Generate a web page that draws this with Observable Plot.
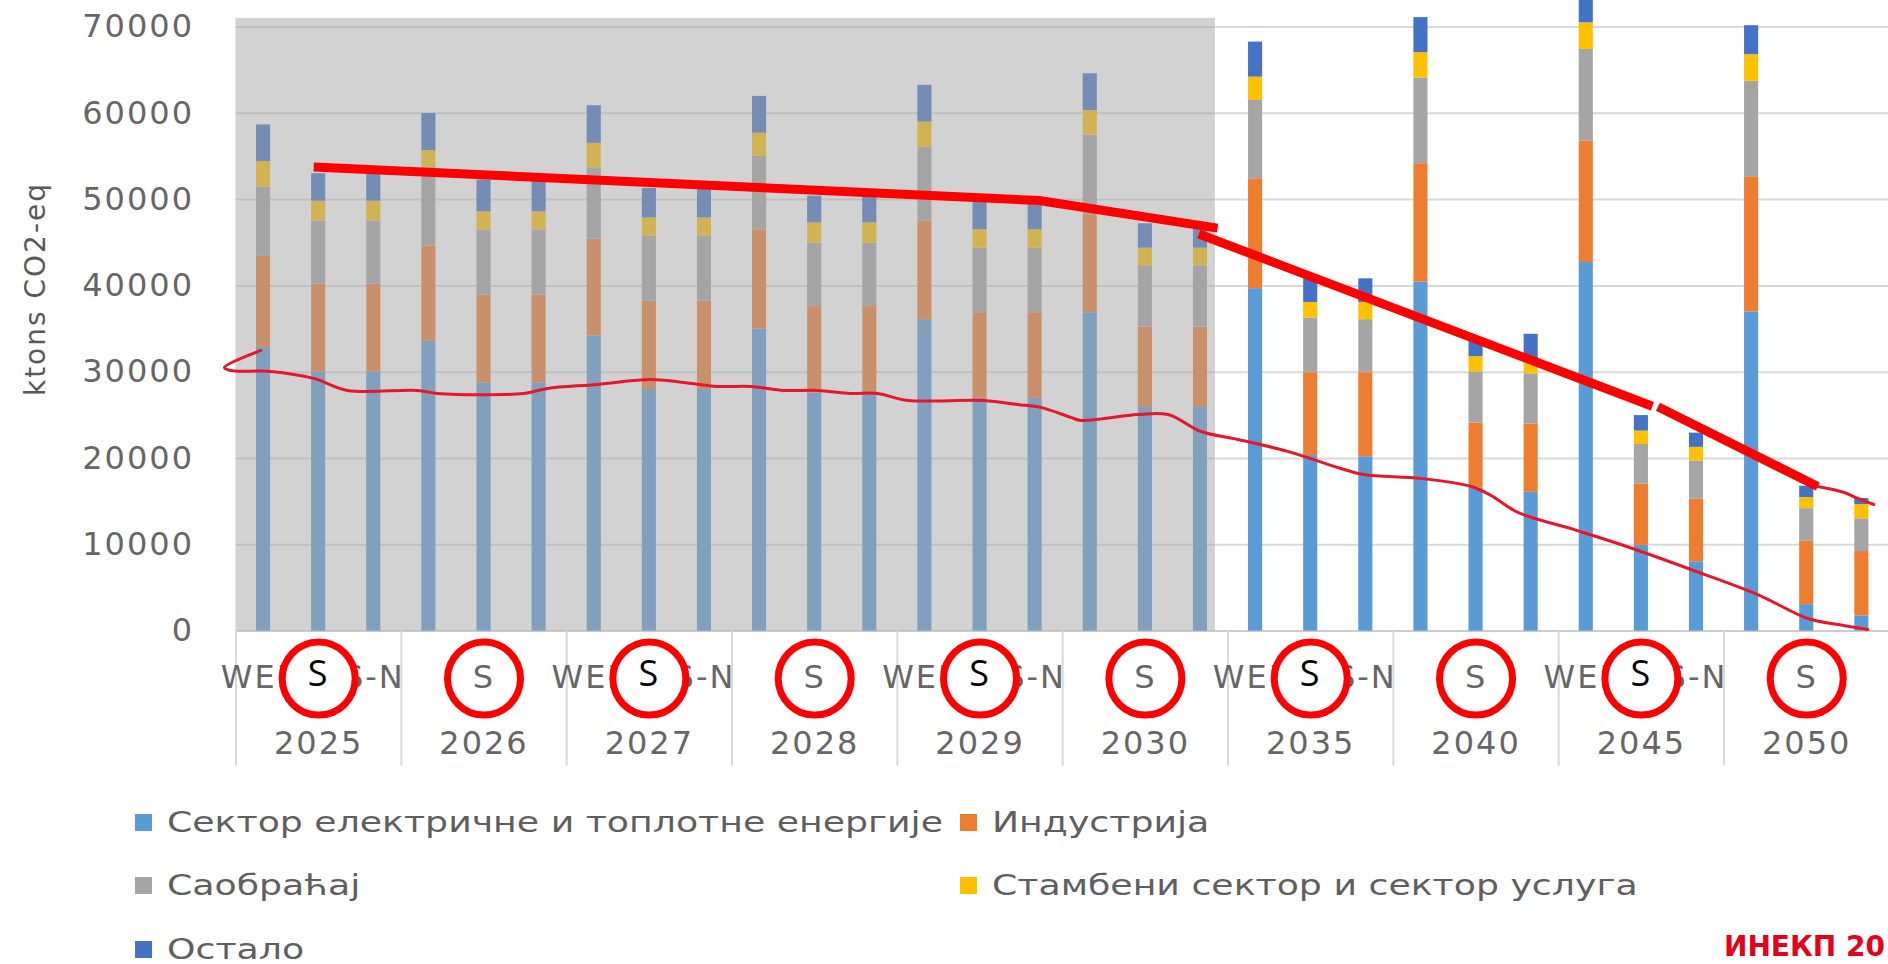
<!DOCTYPE html>
<html><head><meta charset="utf-8">
<script src="https://cdn.jsdelivr.net/npm/d3@7"></script>
<script src="https://cdn.jsdelivr.net/npm/@observablehq/plot@0.6"></script>
<style>
body{margin:0;background:#fff;width:1888px;height:964px;overflow:hidden;position:relative;font-family:"DejaVu Sans",sans-serif}
#chart{position:absolute;left:0;top:0}
#chart svg text{letter-spacing:2px}
.leg{position:absolute;display:flex;align-items:center;white-space:nowrap;transform:translateY(-50%)}
.sw{width:17px;height:17px;margin-right:15px;flex:none}
.lt{display:inline-block;font-size:29px;color:#5f5f5f;transform:scaleX(1.25);transform-origin:left center}
#brand{position:absolute;right:3px;top:947px;transform:translateY(-50%);font:bold 28px "DejaVu Sans",sans-serif;color:#e5001c;white-space:nowrap;line-height:1}
</style></head><body>
<div id="chart"></div>
<div id="legend"></div>
<div id="brand">ИНЕКП 20</div>
<script>
// ---- data ----
const years = ["2025","2026","2027","2028","2029","2030","2035","2040","2045","2050"];
const scenarios = ["WEM","S","S-N"];
const sectors = ["Сектор електричне и топлотне енергије","Индустрија","Саобраћај","Стамбени сектор и сектор услуга","Остало"];
const sectorColors = ["#5B9BD5","#ED7D31","#A5A5A5","#FFC000","#4472C4"];
const energy      = [32870,30040,30040, 33580,28760,28760, 34200,28000,28000, 35000,27580,27580, 36090,26960,26960, 36890,25920,25920, 39680,20340,20200, 40440,16560,16080, 42710,9930,8040, 36990,3070,1750];
const industry    = [10550,10160,10160, 11020,10170,10170, 11210,10220,10220, 11500,10020,10020, 11450,9930,9930, 11360,9320,9320, 12730,9600,9740, 13720,7560,7900, 14050,7100,7240, 15660,7340,7470];
const transport   = [8040,7340,7340, 9180,7570,7570, 8280,7570,7570, 8510,7340,7340, 8510,7480,7480, 9220,7090,7090, 9080,6340,6150, 9930,5920,5820, 10640,4590,4440, 11060,3780,3790];
const residential = [2940,2270,2270, 1890,2080,2080, 2830,2080,2080, 2690,2360,2360, 2930,2130,2130, 2840,2040,2040, 2700,1800,1990, 2930,1750,1650, 3080,1560,1570, 3080,1280,1650];
const other       = [4250,3190,3190, 4310,3690,3690, 4360,3430,3430, 4260,3100,3100, 4260,3200,3200, 4260,2830,2830, 4060,2740,2740, 4070,1790,2940, 4020,1790,1650, 3360,1320,710];
const yTicks = [0,10000,20000,30000,40000,50000,60000,70000];
const yLabel = "ktons CO2-eq";
// shaded block: bar-index span and top value
const shadeFrom = -0.5, shadeTo = 17.27, shadeTop = 71000;
// hand-drawn annotations (bar-index position, value)
const trendIdx = [0.91, 14.07, 17.31, 16.97, 25.2, 25.3, 28.2];
const trendVal = [53790, 49900, 46700, 46020, 26060, 26000, 16760];
const trendSeg = [0, 0, 0, 1, 1, 2, 2];
const thinIdx = [-0.05,-0.71,-0.60,0.13,0.91,1.52,2.79,3.16,4.72,5.15,6.06,7.02,7.62,8.24,8.84,9.44,10.05,10.65,11.14,11.69,13.07,13.68,14.10,14.65,14.83,15.86,16.41,17.01,17.68,18.58,19.49,19.96,21.00,21.91,22.27,22.76,23.77,24.68,25.90,27.11,28.02,28.57,29.11];
const thinVal = [32520,30550,30200,30090,29280,27890,27890,27540,27540,28120,28580,29160,28810,28350,28350,27890,27890,27540,27540,26730,26730,26260,25920,24760,24410,25100,25100,23130,22210,20820,18960,18150,17690,16760,15720,13750,11780,9920,7140,4240,1460,760,190];
const tailIdx = [28.2, 28.68, 28.93, 29.22];
const tailVal = [16760, 16060, 15370, 14670];

// ---- derived tables ----
const series = [energy, industry, transport, residential, other];
const n = years.length * scenarios.length;
const rows = [];
for (let i = 0; i < n; i++) {
  let acc = 0;
  series.forEach((s, k) => { rows.push({i, sector: sectors[k], y1: acc, y2: acc + s[i]}); acc += s[i]; });
}
const scenLabels = d3.range(n).filter(i => i % 2 === 0).map(i => ({i, text: scenarios[i % 3]}));
const yearLabels = years.map((y, k) => ({i: k * 3 + 1, text: y}));
const bounds = d3.range(years.length + 1).map(k => k * 3 - 0.5);
const circles = years.map((y, k) => ({i: k * 3 + 1, filled: k % 2 === 0}));
const trend = trendIdx.map((x, j) => ({x, y: trendVal[j], s: trendSeg[j]}));
const thin = thinIdx.map((x, j) => ({x, y: thinVal[j]}));
const tail = tailIdx.map((x, j) => ({x, y: tailVal[j]}));
const shade = [{x1: shadeFrom, x2: shadeTo, y1: 0, y2: shadeTop}];
const bw = 0.128;
const H = 790, bottomY = 630.6, topY = 26.5;
const txt = "#666666";
const rowDy = 47.5, textShift = 9;

const chart = Plot.plot({
  width: 1888, height: H,
  marginLeft: 235.5, marginRight: 0, marginTop: topY, marginBottom: H - bottomY,
  x: {domain: [-0.5, 29.5], range: [235.5, 1888.9], axis: null},
  y: {domain: [0, 70000], axis: null},
  color: {domain: sectors, range: sectorColors},
  style: {fontFamily: "DejaVu Sans", background: "transparent", overflow: "visible"},
  marks: [
    Plot.gridY(yTicks.filter(d => d > 0), {stroke: "#d9d9d9", strokeOpacity: 1, strokeWidth: 2}),
    Plot.ruleY([0], {stroke: "#cccccc", strokeWidth: 2}),
    Plot.rect(rows, {x1: d => d.i - bw, x2: d => d.i + bw, y1: "y1", y2: "y2", fill: "sector"}),
    Plot.rect(shade, {x1: "x1", x2: "x2", y1: "y1", y2: "y2", fill: "#a6a6a6", fillOpacity: 0.5}),
    Plot.axisY(yTicks, {tickSize: 0, tickPadding: 42, tickFormat: d => String(d), fontSize: 32, fill: txt, label: null}),
    Plot.axisX(bounds, {tickSize: 135, tickFormat: () => "", stroke: "#d9d9d9", strokeWidth: 2, label: null}),
    Plot.text(scenLabels, {x: "i", text: "text", frameAnchor: "bottom", dy: rowDy + textShift, fontSize: 32, fill: txt}),
    Plot.text(yearLabels, {x: "i", text: "text", frameAnchor: "bottom", dy: 113.5 + textShift, fontSize: 32, fill: txt}),
    Plot.text([yLabel], {frameAnchor: "left", textAnchor: "middle", dx: -200, dy: -40, rotate: -90, fontSize: 28, fill: "#595959"}),
    Plot.line(thin, {x: "x", y: "y", stroke: "#e8162a", strokeWidth: 3, curve: "catmull-rom"}),
    Plot.line(tail, {x: "x", y: "y", stroke: "#e8162a", strokeWidth: 3, curve: "catmull-rom"}),
    Plot.line(trend, {x: "x", y: "y", z: "s", stroke: "#ff0000", strokeWidth: 9, strokeLinecap: "butt", strokeLinejoin: "round"}),
    Plot.dot(circles.filter(d => d.filled), {x: "i", frameAnchor: "bottom", dy: rowDy, r: 36.5, fill: "white", stroke: "#ff0000", strokeWidth: 7}),
    Plot.dot(circles.filter(d => !d.filled), {x: "i", frameAnchor: "bottom", dy: rowDy, r: 36.5, fill: "none", stroke: "#ff0000", strokeWidth: 7}),
    Plot.text(circles.filter(d => d.filled), {x: "i", text: () => "S", frameAnchor: "bottom", dy: rowDy + textShift - 2, fontSize: 36, fill: "#000", fontFamily: "Open Sans"})
  ]
});
document.getElementById("chart").appendChild(chart);

// ---- legend (HTML, below the SVG) ----
const legendPos = [[135, 822], [960, 822], [135, 885], [960, 885], [135, 949]];
const leg = document.getElementById("legend");
sectors.forEach((s, k) => {
  const d = document.createElement("div");
  d.className = "leg";
  d.style.left = legendPos[k][0] + "px";
  d.style.top = legendPos[k][1] + "px";
  d.innerHTML = `<span class="sw" style="background:${sectorColors[k]}"></span><span class="lt">${s}</span>`;
  leg.appendChild(d);
});
</script>
</body></html>
